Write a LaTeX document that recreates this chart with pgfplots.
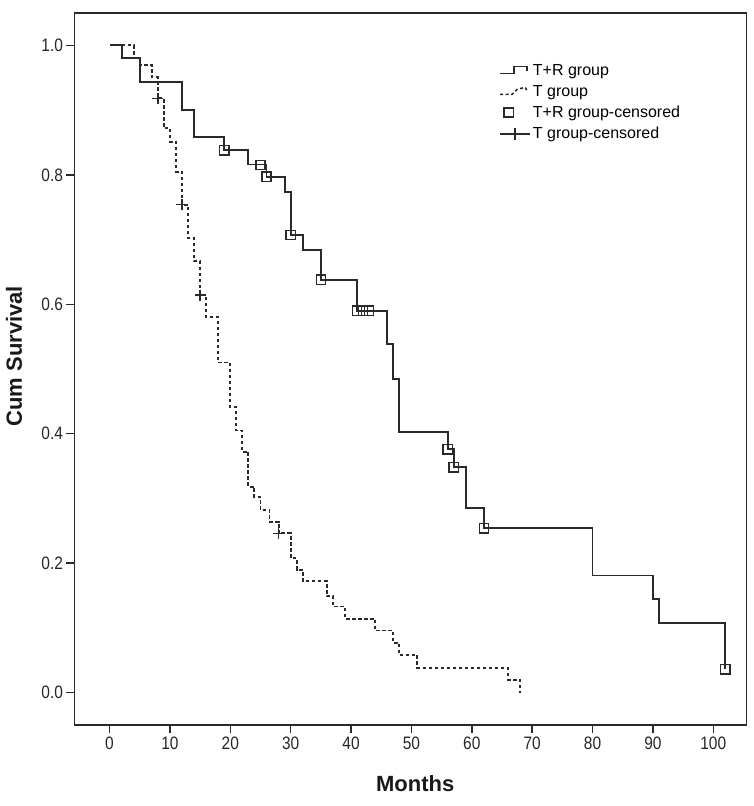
\documentclass[border=0pt]{standalone}
\usepackage{fontspec}
\setmainfont{Liberation Sans}
\newfontfamily\tickfont{Liberation Sans}[FakeStretch=0.86]
\usepackage{pgfplots}
\pgfplotsset{compat=1.18}
\definecolor{ln}{HTML}{2A2A2A}
\begin{document}
\begin{tikzpicture}
\begin{axis}[
  name=ax,
  scale only axis,
  width=672bp, height=712bp,
  xmin=-5.8, xmax=105.5, ymin=-0.05, ymax=1.05,
  axis line style={ln, line width=1.5bp},
  xtick={0,10,...,100},
  ytick={0,0.2,0.4,0.6,0.8,1.0},
  tick pos=left,
  tick align=outside,
  major tick length=8bp,
  tick style={ln, line width=1.5bp},
  /pgf/number format/assume math mode=true,
  yticklabel style={/pgf/number format/.cd, fixed, fixed zerofill, precision=1},
  ticklabel style={font=\tickfont\fontsize{18bp}{21bp}\selectfont, text=black!85},
  xlabel={Months}, ylabel={Cum Survival},
  label style={font=\bfseries\fontsize{22bp}{26bp}\selectfont, text=black!90},
  xlabel style={at={(rel axis cs:0.507,-0.0829)}, anchor=center},
  ylabel style={at={(rel axis cs:-0.090,0.518)}, anchor=center},
  legend style={at={(rel axis cs:0.632,0.931)}, anchor=north west, draw=none, fill=none,
    font=\fontsize{16bp}{19bp}\selectfont, row sep=4.3bp, inner sep=0pt,
    nodes={inner sep=2bp}},
  legend cell align=left,
]
\addplot[const plot mark left, line width=1.9bp, ln,
  legend image code/.code={\draw[line width=1.6bp, ln] (0bp,-3bp) -- (14bp,-3bp) -- (14bp,4bp) -- (27bp,4bp) -- (27bp,0bp);}]
coordinates {(0,1) (2,0.981) (5,0.943) (12,0.900) (14,0.858) (19,0.838) (23,0.816) (26,0.797) (29,0.773) (30,0.707) (32,0.684) (35,0.638) (41,0.590) (46,0.539) (47,0.484) (48,0.403) (56,0.376) (57,0.348) (59,0.285) (62,0.254) (80,0.181) (90,0.145) (91,0.108) (102,0.036)};
\addlegendentry{T+R group}
\addplot[const plot mark left, line width=1.9bp, ln, dash pattern=on 3.5bp off 2.5bp,
  legend image code/.code={\draw[line width=1.6bp, ln, dash pattern=on 3bp off 2.5bp] (0bp,-3bp) -- (12bp,-3bp) -- (17bp,2bp) -- (25bp,4bp) -- (27bp,0bp);}]
coordinates {(0,1) (4,0.981) (5,0.970) (7,0.951) (8,0.918) (9,0.872) (10,0.851) (11,0.805) (12,0.754) (13,0.702) (14,0.667) (15,0.614) (16,0.580) (18,0.510) (20,0.441) (21,0.405) (22,0.372) (23,0.318) (24,0.302) (25,0.282) (26.5,0.264) (28,0.246) (30,0.208) (31,0.190) (32,0.172) (36,0.149) (37,0.133) (39,0.114) (44,0.096) (47,0.077) (48,0.058) (51,0.038) (66,0.020) (68,0.0)};
\addlegendentry{T group}
\addplot[only marks, mark=square, mark size=4.6bp, mark options={ln, line width=1.4bp}]
coordinates {(19,0.838) (25,0.815) (26,0.797) (30,0.707) (35,0.638) (41,0.590) (42,0.590) (43,0.590) (56,0.376) (57,0.348) (62,0.254) (102,0.036)};
\addlegendentry{T+R group-censored}
\addplot[only marks, mark=+, mark size=5.5bp, mark options={ln, line width=1.6bp},
  legend image code/.code={\draw[line width=1.5bp, ln] (0bp,0bp) -- (30bp,0bp); \draw[line width=1.5bp, ln] (15bp,-6bp) -- (15bp,6bp);}]
coordinates {(8,0.918) (12,0.754) (15,0.614) (28,0.246)};
\addlegendentry{T group-censored}
\end{axis}
\path ([shift={(-74.5bp,-81bp)}]ax.south west) rectangle ([shift={(7.4bp,13bp)}]ax.north east);
\end{tikzpicture}
\end{document}
